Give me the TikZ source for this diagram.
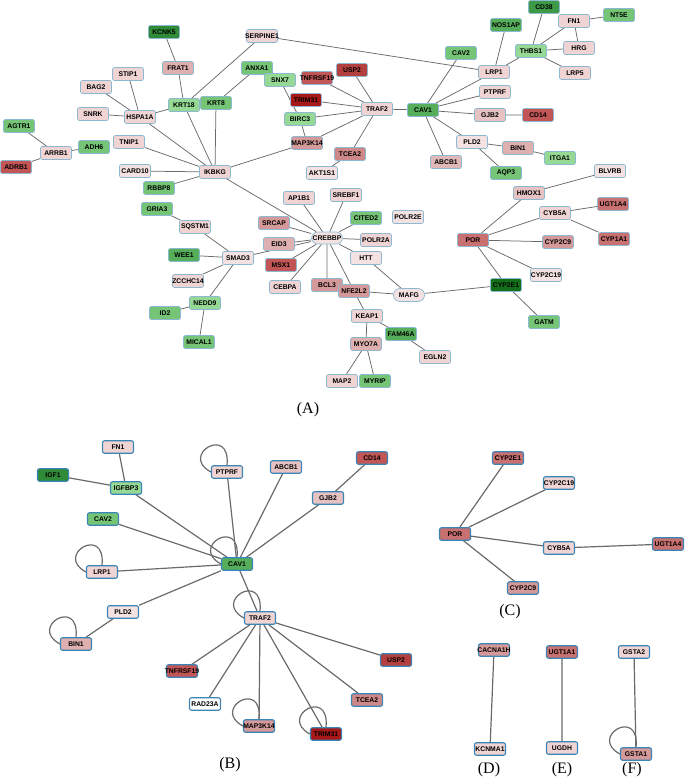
\documentclass[tikz,border=0pt]{standalone}
\usepackage{fontspec}
\setmainfont{Liberation Sans}
\newfontfamily\serifl{Liberation Serif}
\definecolor{lp}{HTML}{F0D4D4}
\definecolor{vlp}{HTML}{F4E2E2}
\definecolor{lptwo}{HTML}{E6C2C2}
\definecolor{mp}{HTML}{DEB0B0}
\definecolor{mptwo}{HTML}{E0B8B8}
\definecolor{pk}{HTML}{D59999}
\definecolor{pktwo}{HTML}{CF8888}
\definecolor{rdthree}{HTML}{C97070}
\definecolor{rd}{HTML}{C25555}
\definecolor{rdtwo}{HTML}{B43F3F}
\definecolor{drd}{HTML}{A81818}
\definecolor{lg}{HTML}{95D995}
\definecolor{gr}{HTML}{76C576}
\definecolor{mg}{HTML}{57AE5A}
\definecolor{dg}{HTML}{2F8B37}
\definecolor{dgtwo}{HTML}{3E9A46}
\definecolor{ddg}{HTML}{137019}
\definecolor{bdA}{HTML}{8CB9D1}
\definecolor{bdB}{HTML}{3A85B6}
\definecolor{edgeA}{HTML}{6A6A6A}
\definecolor{edgeB}{HTML}{6A6A6A}
\newcommand\gnm[1]{\makebox[0pt]{#1}}
\pgfdeclarelayer{bg}
\pgfsetlayers{bg,main}
\begin{document}
\begin{tikzpicture}[x=1pt,y=-1pt,
  gA/.style={draw=bdA, line width=0.7pt, rounded corners=2pt, minimum width=31pt, minimum height=13pt, inner sep=0pt, font=\fontsize{6.8}{8}\selectfont\bfseries, text=black},
  capA/.style={gA, rounded corners=6.4pt},
  gB/.style={gA, draw=bdB, line width=1.1pt, minimum height=12.5pt},
  eA/.style={draw=edgeA, line width=0.75pt},
  eB/.style={draw=edgeB, line width=1.2pt},
  plab/.style={font=\serifl\fontsize{16}{18}\selectfont, inner sep=0pt}
]
\useasboundingbox (0,0) rectangle (685,778);
% ---------------- Panel A ----------------
\node[gA,fill=dg] (KCNK5) at (164,32) {\gnm{KCNK5}};
\node[gA,fill=mp] (FRAT1) at (178,68) {\gnm{FRAT1}};
\node[gA,fill=lp] (STIP1) at (128,74) {\gnm{STIP1}};
\node[gA,fill=lp] (BAG2) at (96,87) {\gnm{BAG2}};
\node[gA,fill=lp] (SNRK) at (93,114) {\gnm{SNRK}};
\node[gA,fill=lp] (HSPA1A) at (140,117) {\gnm{HSPA1A}};
\node[gA,fill=lg] (KRT18) at (184,105) {\gnm{KRT18}};
\node[gA,fill=gr] (KRT8) at (216,103) {\gnm{KRT8}};
\node[gA,fill=gr] (AGTR1) at (19,126) {\gnm{AGTR1}};
\node[gA,fill=lp] (ARRB1) at (56,153) {\gnm{ARRB1}};
\node[gA,fill=gr] (ADH6) at (94,147) {\gnm{ADH6}};
\node[gA,fill=lp] (TNIP1) at (129,142) {\gnm{TNIP1}};
\node[gA,fill=rd] (ADRB1) at (16,167) {\gnm{ADRB1}};
\node[gA,fill=vlp] (CARD10) at (135,171) {\gnm{CARD10}};
\node[gA,fill=lp] (IKBKG) at (215,172) {\gnm{IKBKG}};
\node[gA,fill=gr] (RBBP8) at (159,188) {\gnm{RBBP8}};
\node[gA,fill=lp] (SERPINE1) at (262,36) {\gnm{SERPINE1}};
\node[gA,fill=gr] (ANXA1) at (257,68) {\gnm{ANXA1}};
\node[gA,fill=lg] (SNX7) at (280,80) {\gnm{SNX7}};
\node[gA,fill=rd] (TNFRSF19) at (317,78) {\gnm{TNFRSF19}};
\node[gA,fill=rdtwo] (USP2) at (352,70) {\gnm{USP2}};
\node[gA,fill=drd] (TRIM31) at (306,100) {\gnm{TRIM31}};
\node[gA,fill=lp] (TRAF2) at (377,109) {\gnm{TRAF2}};
\node[gA,fill=mg] (CAV1) at (423,110) {\gnm{CAV1}};
\node[gA,fill=lg] (BIRC3) at (300,119) {\gnm{BIRC3}};
\node[gA,fill=pk] (MAP3K14) at (307,143) {\gnm{MAP3K14}};
\node[gA,fill=pktwo] (TCEA2) at (350,154) {\gnm{TCEA2}};
\node[gA,fill=vlp] (AKT1S1) at (322,173) {\gnm{AKT1S1}};
\node[gA,fill=lp] (AP1B1) at (299,198) {\gnm{AP1B1}};
\node[gA,fill=lp] (SREBF1) at (346,195) {\gnm{SREBF1}};
\node[gA,fill=dgtwo] (CD38) at (544,7) {\gnm{CD38}};
\node[gA,fill=lp] (FN1) at (574,21) {\gnm{FN1}};
\node[gA,fill=gr] (NT5E) at (619,15) {\gnm{NT5E}};
\node[gA,fill=mg] (NOS1AP) at (506,25) {\gnm{NOS1AP}};
\node[gA,fill=gr] (CAV2) at (461,53) {\gnm{CAV2}};
\node[gA,fill=lg] (THBS1) at (531,51) {\gnm{THBS1}};
\node[gA,fill=lp] (HRG) at (579,48) {\gnm{HRG}};
\node[gA,fill=lp] (LRP1) at (494,72) {\gnm{LRP1}};
\node[gA,fill=lp] (LRP5) at (575,73) {\gnm{LRP5}};
\node[gA,fill=lp] (PTPRF) at (495,92) {\gnm{PTPRF}};
\node[gA,fill=lptwo] (GJB2) at (490,115) {\gnm{GJB2}};
\node[gA,fill=rd] (CD14) at (538,115) {\gnm{CD14}};
\node[gA,fill=vlp] (PLD2) at (472,142) {\gnm{PLD2}};
\node[gA,fill=mp] (BIN1) at (518,148) {\gnm{BIN1}};
\node[gA,fill=lg] (ITGA1) at (560,158) {\gnm{ITGA1}};
\node[gA,fill=mptwo] (ABCB1) at (446,162) {\gnm{ABCB1}};
\node[gA,fill=gr] (AQP3) at (506,173) {\gnm{AQP3}};
\node[gA,fill=vlp] (BLVRB) at (610,171) {\gnm{BLVRB}};
\node[gA,fill=lptwo] (HMOX1) at (529,193) {\gnm{HMOX1}};
\node[gA,fill=lp] (CYB5A) at (555,213) {\gnm{CYB5A}};
\node[gA,fill=rdthree] (UGT1A4) at (613,204) {\gnm{UGT1A4}};
\node[gA,fill=rdthree] (CYP1A1) at (614,239) {\gnm{CYP1A1}};
\node[gA,fill=rdthree] (POR) at (473,240) {\gnm{POR}};
\node[gA,fill=pk] (CYP2C9) at (558,242) {\gnm{CYP2C9}};
\node[gA,fill=vlp] (CYP2C19) at (546,275) {\gnm{CYP2C19}};
\node[gA,fill=ddg] (CYP2E1) at (506,285) {\gnm{CYP2E1}};
\node[gA,fill=gr] (GATM) at (544,322) {\gnm{GATM}};
\node[gA,fill=gr] (GRIA3) at (157,209) {\gnm{GRIA3}};
\node[gA,fill=lp] (SQSTM1) at (195,227) {\gnm{SQSTM1}};
\node[gA,fill=mg] (WEE1) at (184,255) {\gnm{WEE1}};
\node[gA,fill=vlp] (SMAD3) at (238,258) {\gnm{SMAD3}};
\node[gA,fill=lp] (ZCCHC14) at (188,281) {\gnm{ZCCHC14}};
\node[gA,fill=lg] (NEDD9) at (205,303) {\gnm{NEDD9}};
\node[gA,fill=gr] (ID2) at (165,313) {\gnm{ID2}};
\node[gA,fill=gr] (MICAL1) at (199,342) {\gnm{MICAL1}};
\node[gA,fill=pk] (SRCAP) at (274,223) {\gnm{SRCAP}};
\node[gA,fill=mp] (EID3) at (279,244) {\gnm{EID3}};
\node[gA,fill=rd] (MSX1) at (281,265) {\gnm{MSX1}};
\node[gA,fill=lp] (CEBPA) at (285,287) {\gnm{CEBPA}};
\node[gA,fill=pk] (BCL3) at (327,285) {\gnm{BCL3}};
\node[gA,fill=pk] (NFE2L2) at (354,291) {\gnm{NFE2L2}};
\node[capA,fill=vlp,minimum height=12pt] (CREBBP) at (327,238) {\gnm{CREBBP}};
\node[gA,fill=gr] (CITED2) at (366,218) {\gnm{CITED2}};
\node[gA,fill=vlp] (POLR2E) at (408,217) {\gnm{POLR2E}};
\node[gA,fill=lp] (POLR2A) at (376,240) {\gnm{POLR2A}};
\node[gA,fill=vlp] (HTT) at (366,258) {\gnm{HTT}};
\node[capA,fill=vlp] (MAFG) at (409,295) {\gnm{MAFG}};
\node[gA,fill=lp] (KEAP1) at (367,316) {\gnm{KEAP1}};
\node[gA,fill=mg] (FAM46A) at (401,334) {\gnm{FAM46A}};
\node[gA,fill=mp] (MYO7A) at (366,344) {\gnm{MYO7A}};
\node[gA,fill=lp] (EGLN2) at (435,357) {\gnm{EGLN2}};
\node[gA,fill=lp] (MAP2) at (342,381) {\gnm{MAP2}};
\node[gA,fill=gr] (MYRIP) at (375,381) {\gnm{MYRIP}};
\begin{pgfonlayer}{bg}
\draw[eA] (KCNK5)--(FRAT1) (FRAT1)--(KRT18) (KRT18)--(HSPA1A) (KRT18)--(IKBKG) (KRT18)--(SERPINE1)
 (KRT8)--(ANXA1) (KRT8)--(IKBKG) (HSPA1A)--(STIP1) (HSPA1A)--(BAG2) (HSPA1A)--(SNRK) (HSPA1A)--(IKBKG)
 (ARRB1)--(AGTR1) (ARRB1)--(ADRB1) (ARRB1)--(ADH6) (TNIP1)--(IKBKG) (CARD10)--(IKBKG) (RBBP8)--(IKBKG)
 (IKBKG)--(MAP3K14) (IKBKG)--(CREBBP) (SERPINE1)--(LRP1) (SNX7)--(BIRC3) (BIRC3)--(MAP3K14)
 (TRAF2)--(TNFRSF19) (TRAF2)--(USP2) (TRAF2)--(TRIM31) (TRAF2)--(BIRC3) (TRAF2)--(MAP3K14) (TRAF2)--(TCEA2) (TRAF2)--(CAV1)
 (TCEA2)--(AKT1S1)
 (CAV1)--(LRP1) (CAV1)--(PTPRF) (CAV1)--(GJB2) (CAV1)--(PLD2) (CAV1)--(ABCB1) (CAV1)--(CAV2)
 (LRP1)--(NOS1AP) (LRP1)--(THBS1) (THBS1)--(CD38) (THBS1)--(FN1) (THBS1)--(HRG) (THBS1)--(LRP5)
 (FN1)--(NT5E) (FN1)--(HRG) (GJB2)--(CD14) (PLD2)--(BIN1) (PLD2)--(AQP3) (BIN1)--(ITGA1)
 (HMOX1)--(BLVRB) (HMOX1)--(POR) (POR)--(CYB5A) (POR)--(CYP2C9) (POR)--(CYP2C19) (POR)--(CYP2E1)
 (CYB5A)--(UGT1A4) (CYB5A)--(CYP1A1) (CYP2E1)--(GATM) (CYP2E1)--(MAFG)
 (CREBBP)--(AP1B1) (CREBBP)--(SREBF1) (CREBBP)--(CITED2) (CREBBP)--(POLR2A) (CREBBP)--(HTT)
 (CREBBP)--(BCL3) (CREBBP)--(NFE2L2) (CREBBP)--(CEBPA) (CREBBP)--(MSX1) (CREBBP)--(EID3) (CREBBP)--(SRCAP) (CREBBP)--(SMAD3)
 (HTT)--(MAFG) (NFE2L2)--(MAFG) (NFE2L2)--(KEAP1) (KEAP1)--(FAM46A) (KEAP1)--(MYO7A) (FAM46A)--(EGLN2)
 (MYO7A)--(MAP2) (MYO7A)--(MYRIP)
 (SMAD3)--(SQSTM1) (SMAD3)--(WEE1) (SMAD3)--(ZCCHC14) (SMAD3)--(NEDD9) (SQSTM1)--(GRIA3)
 (NEDD9)--(ID2) (NEDD9)--(MICAL1);
\end{pgfonlayer}
\node[plab] (labA) at (308,410) {(A)};
% ---------------- Panel B ----------------
\node[gB,fill=lp] (FN1b) at (118,447) {\gnm{FN1}};
\node[gB,fill=dg] (IGF1b) at (53,475) {\gnm{IGF1}};
\node[gB,fill=lg] (IGFBP3b) at (126,488) {\gnm{IGFBP3}};
\node[gB,fill=lp] (PTPRFb) at (227,472) {\gnm{PTPRF}};
\node[gB,fill=gr] (CAV2b) at (103,519) {\gnm{CAV2}};
\node[gB,fill=lp] (LRP1b) at (102,572) {\gnm{LRP1}};
\node[gB,fill=mg] (CAV1b) at (237,564) {\gnm{CAV1}};
\node[gB,fill=vlp] (PLD2b) at (123,612) {\gnm{PLD2}};
\node[gB,fill=mp] (BIN1b) at (76,644) {\gnm{BIN1}};
\node[gB,fill=lptwo] (ABCB1b) at (286,467) {\gnm{ABCB1}};
\node[gB,fill=rd] (CD14b) at (372,458) {\gnm{CD14}};
\node[gB,fill=lptwo] (GJB2b) at (328,498) {\gnm{GJB2}};
\node[gB,fill=lp] (TRAF2b) at (260,618) {\gnm{TRAF2}};
\node[gB,fill=rd] (TNFRSF19b) at (182,671) {\gnm{TNFRSF19}};
\node[gB,fill=rdtwo] (USP2b) at (396,660) {\gnm{USP2}};
\node[gB,fill=white] (RAD23Ab) at (205,704) {\gnm{RAD23A}};
\node[gB,fill=pktwo] (TCEA2b) at (367,700) {\gnm{TCEA2}};
\node[gB,fill=pk] (MAP3K14b) at (259,726) {\gnm{MAP3K14}};
\node[gB,fill=drd] (TRIM31b) at (326,734) {\gnm{TRIM31}};
\begin{pgfonlayer}{bg}
\draw[eB] (FN1b)--(IGFBP3b) (IGF1b)--(IGFBP3b) (IGFBP3b)--(CAV1b) (CAV2b)--(CAV1b) (LRP1b)--(CAV1b)
 (PLD2b)--(CAV1b) (PTPRFb)--(CAV1b) (ABCB1b)--(CAV1b) (GJB2b)--(CAV1b) (GJB2b)--(CD14b)
 (CAV1b)--(TRAF2b) (PLD2b)--(BIN1b)
 (TRAF2b)--(TNFRSF19b) (TRAF2b)--(RAD23Ab) (TRAF2b)--(MAP3K14b) (TRAF2b)--(TRIM31b) (TRAF2b)--(TCEA2b) (TRAF2b)--(USP2b);
\draw[eB] (PTPRFb.west) .. controls +(-32,-17) and +(4,-41) .. (PTPRFb.north);
\draw[eB] (LRP1b.west) .. controls +(-32,-17) and +(4,-41) .. (LRP1b.north);
\draw[eB] (CAV1b.west) .. controls +(-32,-17) and +(4,-41) .. (CAV1b.north);
\draw[eB] (TRAF2b.west) .. controls +(-32,-17) and +(4,-41) .. (TRAF2b.north);
\draw[eB] (MAP3K14b.west) .. controls +(-32,-17) and +(4,-41) .. (MAP3K14b.north);
\draw[eB] (TRIM31b.west) .. controls +(-32,-17) and +(4,-41) .. (TRIM31b.north);
\draw[eB] (BIN1b.west) .. controls +(-32,-17) and +(4,-41) .. (BIN1b.north);
\end{pgfonlayer}
\node[plab] (labB) at (230,765) {(B)};
% ---------------- Panel C ----------------
\node[gB,fill=rdthree] (CYP2E1c) at (508,458) {\gnm{CYP2E1}};
\node[gB,fill=lp] (CYP2C19c) at (559,483) {\gnm{CYP2C19}};
\node[gB,fill=rdthree] (PORc) at (455,534) {\gnm{POR}};
\node[gB,fill=lp] (CYB5Ac) at (559,548) {\gnm{CYB5A}};
\node[gB,fill=rdthree] (UGT1A4c) at (668,544) {\gnm{UGT1A4}};
\node[gB,fill=pk] (CYP2C9c) at (523,588) {\gnm{CYP2C9}};
\begin{pgfonlayer}{bg}
\draw[eB] (PORc)--(CYP2E1c) (PORc)--(CYP2C19c) (PORc)--(CYB5Ac) (PORc)--(CYP2C9c) (CYB5Ac)--(UGT1A4c);
\end{pgfonlayer}
\node[plab] (labC) at (510,612) {(C)};
% ---------------- Panels D, E, F ----------------
\node[gB,fill=pk] (CACNA1H) at (494,650) {\gnm{CACNA1H}};
\node[gB,fill=lp] (KCNMA1) at (490,749) {\gnm{KCNMA1}};
\node[gB,fill=rdthree] (UGT1A1) at (562,652) {\gnm{UGT1A1}};
\node[gB,fill=lp] (UGDH) at (562,748) {\gnm{UGDH}};
\node[gB,fill=lp] (GSTA2) at (634,652) {\gnm{GSTA2}};
\node[gB,fill=pk] (GSTA1) at (636,754) {\gnm{GSTA1}};
\begin{pgfonlayer}{bg}
\draw[eB] (CACNA1H)--(KCNMA1) (UGT1A1)--(UGDH) (GSTA2)--(GSTA1);
\draw[eB] (GSTA1.west) .. controls +(-32,-17) and +(4,-41) .. (GSTA1.north);
\end{pgfonlayer}
\node[plab] (labD) at (489,770) {(D)};
\node[plab] (labE) at (562,770) {(E)};
\node[plab] (labF) at (632,770) {(F)};
\end{tikzpicture}
\end{document}
